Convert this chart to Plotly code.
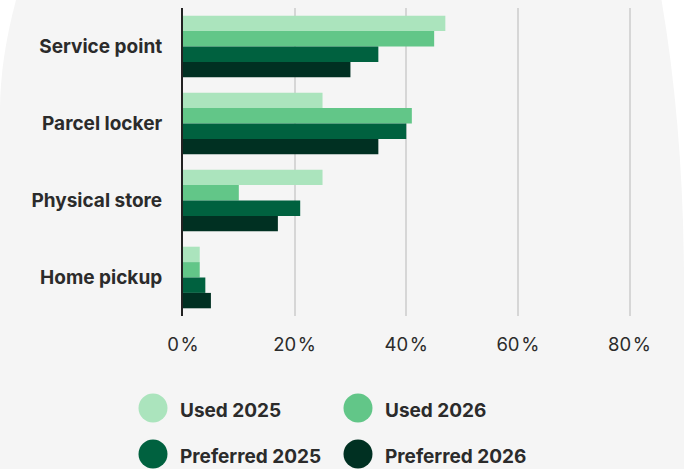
import plotly.graph_objects as go

# Pickup options and share of respondents (%) per series
categories = ["Service point", "Parcel locker", "Physical store", "Home pickup"]
series_names = ["Used 2025", "Used 2026", "Preferred 2025", "Preferred 2026"]
used_2025 = [47, 25, 25, 3]
used_2026 = [45, 41, 10, 3]
preferred_2025 = [35, 40, 21, 4]
preferred_2026 = [30, 35, 17, 5]
tick_values = [0, 20, 40, 60, 80]
tick_labels = ["0\u200a%", "20\u200a%", "40\u200a%", "60\u200a%", "80\u200a%"]

colors = ["#abe4bd", "#62c688", "#00613f", "#003022"]
series_values = [used_2025, used_2026, preferred_2025, preferred_2026]

W, H = 684, 469
M_L, M_R, M_T, M_B = 183, 21, 8, 153
PW, PH = W - M_L - M_R, H - M_T - M_B
FONT = "Inter"
TEXT = "#2b2b2b"


def px(x):
    return (x - M_L) / PW


def py(y):
    return (H - M_B - y) / PH


fig = go.Figure()
for name, vals, col in zip(series_names, series_values, colors):
    fig.add_trace(go.Bar(
        y=categories, x=vals, name=name, orientation="h",
        marker=dict(color=col, line=dict(width=0)),
        showlegend=False, hoverinfo="x+name",
    ))

# Rounded light-grey panel behind the chart
panel = (
    f"M {px(16)},{py(0)} L {px(661.5)},{py(0)} "
    f"Q {px(684)},{py(132)} {px(684)},{py(286)} "
    f"L {px(684)},{py(H)} L {px(0)},{py(H)} L {px(0)},{py(110)} "
    f"Q {px(0)},{py(60)} {px(16)},{py(0)} Z"
)
shapes = [dict(type="path", path=panel, xref="paper", yref="paper",
               fillcolor="#f5f5f5", line=dict(width=0), layer="below")]

# Legend: circle swatches with bold labels in two columns
annotations = []
legend_pos = [(153, 408), (358, 408), (153, 454), (358, 454)]
for (cx, cy), name, col in zip(legend_pos, series_names, colors):
    r = 14.5
    shapes.append(dict(type="circle", xref="paper", yref="paper",
                       x0=px(cx - r), x1=px(cx + r), y0=py(cy + r), y1=py(cy - r),
                       fillcolor=col, line=dict(width=0)))
    annotations.append(dict(text=name, xref="paper", yref="paper",
                            x=px(cx + 25), y=py(cy + 2), xanchor="left", yanchor="middle",
                            showarrow=False,
                            font=dict(family=FONT, size=19, color=TEXT, weight=700)))

fig.update_layout(
    width=W, height=H,
    margin=dict(l=M_L, r=M_R, t=M_T, b=M_B, pad=0),
    paper_bgcolor="white",
    plot_bgcolor="rgba(0,0,0,0)",
    barmode="group", bargap=0.2, bargroupgap=0,
    shapes=shapes, annotations=annotations,
    showlegend=False,
    xaxis=dict(range=[0, 86], tickvals=tick_values, ticktext=tick_labels,
               showgrid=True, gridcolor="#d6d6d6", gridwidth=1.5,
               zeroline=False, showline=False, ticks="",
               ticklabelstandoff=15,
               tickfont=dict(family=FONT, size=18.5, color=TEXT)),
    yaxis=dict(autorange="reversed", showgrid=False, zeroline=False,
               showline=True, linecolor="#222222", linewidth=2, ticks="",
               ticklabelstandoff=15,
               tickfont=dict(family=FONT, size=19, color=TEXT, weight=700)),
    font=dict(family=FONT),
)

fig.write_html("out.html")
